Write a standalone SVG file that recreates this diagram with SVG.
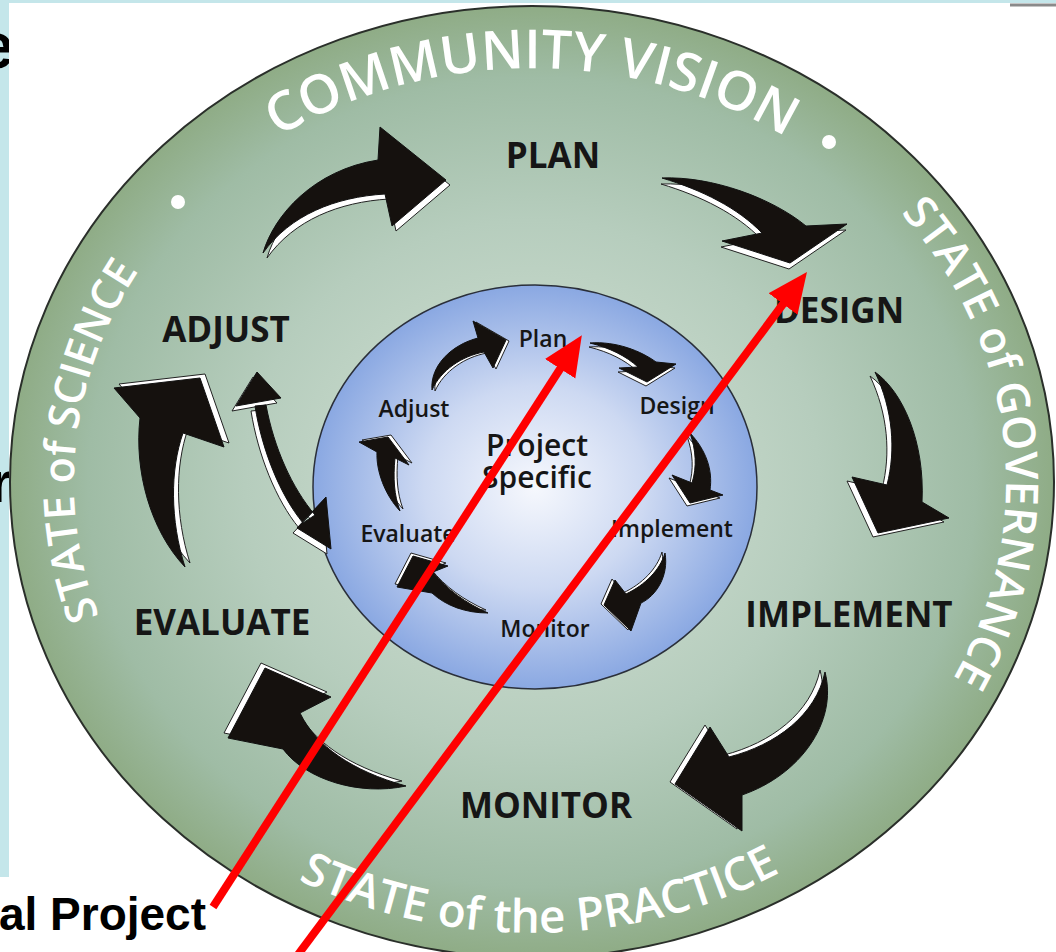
<svg xmlns="http://www.w3.org/2000/svg" xmlns:xlink="http://www.w3.org/1999/xlink" width="1056" height="952" viewBox="0 0 1056 952">
<style>
.lbl{font-family:"Open Sans","Noto Sans",sans-serif;font-weight:600;fill:#161616;text-anchor:middle}
.big{font-size:35px;font-weight:700}
.sm{font-size:23px}
.ring{font-family:"Open Sans","Noto Sans",sans-serif;font-weight:600;fill:#ffffff}
.sh{fill:#ffffff;stroke:#222;stroke-width:1}
.ar{fill:#15110e;stroke:#111;stroke-width:1}
.red{stroke:#ff0000;stroke-width:8;fill:none}
.slide{font-family:"Liberation Sans",Arial,sans-serif;font-weight:700;fill:#000}
</style>
<defs>
<radialGradient id="gGreen" cx="0.5" cy="0.5" r="0.5">
<stop offset="0" stop-color="#d6e3d8"/>
<stop offset="0.55" stop-color="#b6cdbd"/>
<stop offset="0.85" stop-color="#9fbca5"/>
<stop offset="1" stop-color="#8fac86"/>
</radialGradient>
<radialGradient id="gBlue" cx="0.5" cy="0.5" r="0.5">
<stop offset="0" stop-color="#f6f8fd"/>
<stop offset="0.5" stop-color="#cdd9f2"/>
<stop offset="1" stop-color="#8aa8e2"/>
</radialGradient>
<marker id="redHead" markerUnits="userSpaceOnUse" markerWidth="42" markerHeight="38" refX="20" refY="18" orient="auto">
<path d="M0,0 L40,18 L0,36 Z" fill="#ff0000"/>
</marker>
<path id="tTop" d="M72,482 A460,414 0 0 1 992,482"/>
<path id="tLeft" d="M532,894 A458,412 0 0 1 532,70"/>
<path id="tRight" d="M532,54 A474,428 0 0 1 532,910"/>
<path id="tBottom" d="M35,482 A497,451 0 0 0 1029,482"/>
<path id="a1" d="M263,253 C274,215 314,170 378,160 L380,127 L446,180 L392,226 L385,194 C335,197 290,215 263,253 Z"/>
<path id="a2" d="M662,178 C712,176 772,198 806,226 L847,224 L790,263 L722,241 L762,233 C738,208 702,190 662,178 Z"/>
<path id="a3" d="M875,372 C903,392 925,442 922,502 L949,518 L878,533 L852,477 L887,485 C896,450 893,410 875,372 Z"/>
<path id="a4" d="M825,672 C838,722 800,775 742,795 L742,831 L675,784 L710,727 L729,757 C776,745 816,715 825,672 Z"/>
<path id="a5" d="M406,786 C360,796 306,780 283,749 L228,738 L265,668 L331,697 L300,713 C316,746 352,771 406,786 Z"/>
<path id="a6" d="M185,567 C150,530 134,470 140,418 L114,388 L200,378 L224,447 L183,433 C170,470 170,520 185,567 Z"/>
<path id="a7" d="M255,406 C262,450 280,495 303,523 L315,515 C292,488 274,448 266,405 Z M257,372 L236,406 L281,398 Z M326,497 L331,549 L297,528 Z"/>
<path id="b1" d="M432,390 C430,366 451,345 478,338 L473,321 L506,340 L493,368 L484,352 C462,356 441,370 432,390 Z"/>
<path id="b2" d="M590,343 C616,341 641,351 656,362 L676,364 L647,382 L619,368 L638,367 C626,356 610,348 590,343 Z"/>
<path id="b3" d="M690,433 C706,450 713,470 710,490 L723,495 L690,503 L672,475 L692,483 C697,467 696,450 690,433 Z"/>
<path id="b4" d="M665,553 C669,576 656,596 641,603 L631,631 L604,605 L615,580 L626,594 C645,585 660,570 665,553 Z"/>
<path id="b5" d="M488,613 C466,613 446,606 432,593 L397,587 L413,556 L448,566 L433,572 C447,590 466,603 488,613 Z"/>
<path id="b6" d="M400,511 C385,495 376,471 377,452 L359,442 L388,437 L409,465 L395,458 C393,478 394,495 400,511 Z"/>
</defs>

<rect x="0" y="0" width="1056" height="952" fill="#ffffff"/>
<rect x="0" y="0" width="1056" height="3" fill="#c4e6ea"/>
<rect x="0" y="0" width="9" height="877" fill="#c4e6ea"/>
<text class="slide" x="14" y="68" font-size="64" text-anchor="end">e</text>
<text class="slide" x="12" y="502" font-size="58" text-anchor="end">r</text>
<rect x="9" y="3" width="1047" height="874" fill="#ffffff"/>
<line x1="1010" y1="5" x2="1056" y2="5" stroke="#8a8a8a" stroke-width="3"/>

<g id="outer-ring">
<ellipse cx="532" cy="482" rx="522" ry="476" fill="url(#gGreen)" stroke="#2a2f2a" stroke-width="2"/>
<circle cx="178" cy="202" r="7" fill="#ffffff"/>
<circle cx="829" cy="142" r="7" fill="#ffffff"/>
<text class="ring" font-size="54"><textPath xlink:href="#tTop" startOffset="50%" text-anchor="middle">COMMUNITY VISION</textPath></text>
<text class="ring" font-size="43"><textPath xlink:href="#tLeft" startOffset="727" text-anchor="middle">STATE of SCIENCE</textPath></text>
<text class="ring" font-size="45"><textPath xlink:href="#tRight" startOffset="664" text-anchor="middle">STATE of GOVERNANCE</textPath></text>
<text class="ring" font-size="46"><textPath xlink:href="#tBottom" startOffset="753" text-anchor="middle">STATE of the PRACTICE</textPath></text>
</g>

<g id="inner-circle">
<ellipse cx="535" cy="487" rx="222" ry="202" fill="url(#gBlue)" stroke="#2a2f3a" stroke-width="1.5"/>
</g>

<g id="plan"><text class="lbl big" x="553" y="168">PLAN</text></g>
<g id="design"><text class="lbl big" x="839" y="323">DESIGN</text></g>
<g id="implement"><text class="lbl big" x="849" y="627">IMPLEMENT</text></g>
<g id="monitor"><text class="lbl big" x="546" y="818">MONITOR</text></g>
<g id="evaluate"><text class="lbl big" x="222" y="635">EVALUATE</text></g>
<g id="adjust"><text class="lbl big" x="226" y="342">ADJUST</text></g>

<g id="project-specific">
<text class="lbl" font-size="30" x="537" y="456">Project</text>
<text class="lbl" font-size="30" x="537" y="488">Specific</text>
</g>
<g id="plan-inner"><text class="lbl sm" x="543" y="347">Plan</text></g>
<g id="design-inner"><text class="lbl sm" x="677" y="414">Design</text></g>
<g id="implement-inner"><text class="lbl sm" x="672" y="537">Implement</text></g>
<g id="monitor-inner"><text class="lbl sm" x="545" y="637">Monitor</text></g>
<g id="evaluate-inner"><text class="lbl sm" x="408" y="542">Evaluate</text></g>
<g id="adjust-inner"><text class="lbl sm" x="414" y="417">Adjust</text></g>

<g id="connectors">
<use xlink:href="#a1" class="sh" transform="translate(4,5)"/><use xlink:href="#a1" class="ar"/>
<use xlink:href="#a2" class="sh" transform="translate(-1,6)"/><use xlink:href="#a2" class="ar"/>
<use xlink:href="#a3" class="sh" transform="translate(-5,4)"/><use xlink:href="#a3" class="ar"/>
<use xlink:href="#a4" class="sh" transform="translate(-5,-2)"/><use xlink:href="#a4" class="ar"/>
<use xlink:href="#a5" class="sh" transform="translate(-4,-5)"/><use xlink:href="#a5" class="ar"/>
<use xlink:href="#a6" class="sh" transform="translate(5,-4)"/><use xlink:href="#a6" class="ar"/>
<use xlink:href="#a7" class="sh" transform="translate(-4,5)"/><use xlink:href="#a7" class="ar"/>
<use xlink:href="#b1" class="sh" transform="translate(3,1)"/><use xlink:href="#b1" class="ar"/>
<use xlink:href="#b2" class="sh" transform="translate(-1,4)"/><use xlink:href="#b2" class="ar"/>
<use xlink:href="#b3" class="sh" transform="translate(-3,3)"/><use xlink:href="#b3" class="ar"/>
<use xlink:href="#b4" class="sh" transform="translate(-3,-1)"/><use xlink:href="#b4" class="ar"/>
<use xlink:href="#b5" class="sh" transform="translate(-2,-3)"/><use xlink:href="#b5" class="ar"/>
<use xlink:href="#b6" class="sh" transform="translate(3,-2)"/><use xlink:href="#b6" class="ar"/>
<line class="red" x1="213" y1="907" x2="571" y2="352" marker-end="url(#redHead)"/>
<line class="red" x1="297" y1="956" x2="795" y2="288" marker-end="url(#redHead)"/>
</g>

<g id="slide-label"><text class="slide" x="206" y="930" font-size="46" text-anchor="end">al Project</text></g>
</svg>
